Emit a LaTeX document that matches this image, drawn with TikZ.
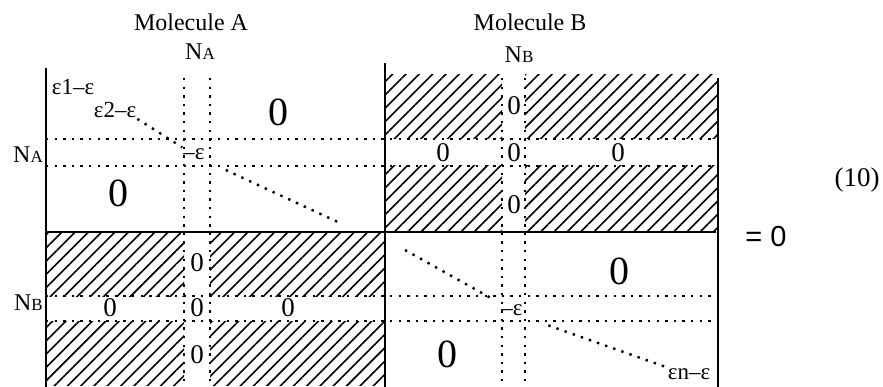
\documentclass[tikz,border=0pt]{standalone}
\usepackage{fontspec}
\setmainfont{Liberation Serif}
\newfontfamily\eqfont{Liberation Sans}
\usetikzlibrary{patterns.meta}
\newcommand\molsub[1]{{\fontsize{17}{17}\selectfont #1}}

\begin{document}
\begin{tikzpicture}[x=1pt,y=-1pt,
  hatch/.style={pattern={Lines[angle=45,distance=9.4pt,line width=1.6pt]}},
  dotline/.style={line width=2.4pt,dash pattern=on 2.4pt off 6.2pt},
  border/.style={line width=2.6pt},
  zero/.style={inner sep=0pt,font=\fontsize{27}{27}\selectfont},
  bigzero/.style={inner sep=0pt,font=\fontsize{40}{40}\selectfont},
  eps/.style={inner sep=1pt,font=\fontsize{23}{23}\selectfont},
  lbl/.style={inner sep=1pt,font=\fontsize{24}{24}\selectfont}]
\useasboundingbox (0,0) rectangle (883,387);
% hatched off-diagonal blocks
\fill[hatch] (385,75) rectangle (502,139);
\fill[hatch] (525,75) rectangle (718,139);
\fill[hatch] (385,166) rectangle (502,232);
\fill[hatch] (525,166) rectangle (718,232);
\fill[hatch] (46,232) rectangle (184,296);
\fill[hatch] (210,232) rectangle (385,296);
\fill[hatch] (46,321) rectangle (184,385);
\fill[hatch] (210,321) rectangle (385,385);
% dotted strips
\draw[dotline] (46,139) -- (718,139);
\draw[dotline] (46,166) -- (718,166);
\draw[dotline] (46,296) -- (718,296);
\draw[dotline] (46,321) -- (718,321);
\draw[dotline] (184,78) -- (184,387);
\draw[dotline] (210,78) -- (210,387);
\draw[dotline] (502,78) -- (502,387);
\draw[dotline] (525,78) -- (525,387);
% borders
\draw[border] (46,68) -- (46,387);
\draw[border] (385,63) -- (385,387);
\draw[border] (718,78) -- (718,387);
\draw[border] (46,232) -- (716,232);
% headings
\node[lbl] (molA) at (191,22) {Molecule A};
\node[lbl] (molB) at (530,22) {Molecule B};
\node[lbl] (natop) at (200,52) {N\molsub{A}};
\node[lbl] (nbtop) at (519,55) {N\molsub{B}};
\node[lbl,anchor=east] (naleft) at (44,155) {N\molsub{A}};
\node[lbl,anchor=east] (nbleft) at (44,303) {N\molsub{B}};
% diagonal of block A
\node[eps] (e1) at (73,87) {ε1--ε};
\node[eps] (e2) at (115,110) {ε2--ε};
\node[eps] (epsA) at (194,154) {--ε};
\coordinate (endA) at (340,223);
\draw[dotline] (e2.south east) -- (epsA.north west);
\draw[dotline,shorten <=22pt] (epsA.south east) -- (endA);
% diagonal of block B
\coordinate (startB) at (405,250);
\node[eps] (epsB) at (512,310) {--ε};
\node[eps] (en) at (689,374) {εn--ε};
\draw[dotline,shorten >=10pt] (startB) -- (epsB.north west);
\draw[dotline,shorten <=26pt] (epsB.south east) -- (en.north west);
% zeros
\node[bigzero] (za1) at (278,112) {0};
\node[bigzero] (za2) at (118,193) {0};
\node[bigzero] (zb1) at (619,271) {0};
\node[bigzero] (zb2) at (447,354) {0};
\node[zero] (zab1) at (514,106) {0};
\node[zero] (zab2) at (514,153) {0};
\node[zero] (zab3) at (514,205) {0};
\node[zero] (zab4) at (443,153) {0};
\node[zero] (zab5) at (618,153) {0};
\node[zero] (zba1) at (197,263) {0};
\node[zero] (zba2) at (197,308) {0};
\node[zero] (zba3) at (197,355) {0};
\node[zero] (zba4) at (110,308) {0};
\node[zero] (zba5) at (288,308) {0};
% right hand side
\node[inner sep=1pt,font=\eqfont\fontsize{29}{29}\selectfont] (rhs) at (766,237) {= 0};
\node[inner sep=1pt,font=\fontsize{27}{27}\selectfont] (eqno) at (857,180) {(10)};
\end{tikzpicture}
\end{document}
